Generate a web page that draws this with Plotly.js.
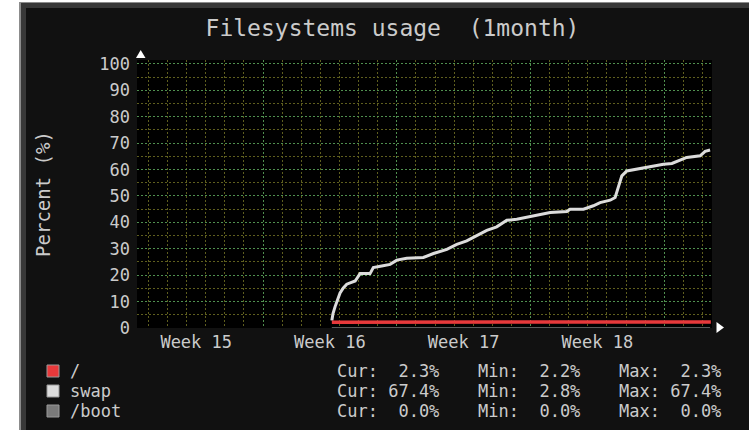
<!DOCTYPE html>
<html>
<head>
<meta charset="utf-8">
<script src="https://cdn.plot.ly/plotly-3.0.1.min.js"></script>
<style>
  html, body { margin:0; padding:0; background:#fff; width:749px; height:430px; overflow:hidden; }
  #frame { position:absolute; left:19px; top:2px; width:730px; height:428px; box-sizing:border-box;
           background:#383838; border-left:2px solid #8c8c8c; border-top:1px solid #8c8c8c; }
  #chart { position:absolute; left:26px; top:8px; width:723px; height:422px; }
</style>
</head>
<body>
<div id="frame"></div>
<div id="chart"></div>
<script>
// ---- data (x = days since start of Week 16) ----
const weekLabels = ['Week 15', 'Week 16', 'Week 17', 'Week 18'];
const weekMid = [-3.5, 3.5, 10.5, 17.5];
const weekStart = [0, 7, 14, 21];

const seriesNames = ['/', 'swap', '/boot'];
const seriesColors = ['#e8393b', '#dcdcdc', '#7a7a7a'];

const rootDay = [3.60, 8.0, 13.0, 18.0, 23.44];
const rootPct = [2.2, 2.2, 2.3, 2.3, 2.3];

const swapDay = [3.60, 3.66, 3.77, 3.90, 4.03, 4.20, 4.38, 4.82, 5.08, 5.60, 5.77, 6.21, 6.65, 7.00, 7.52, 8.39,
                 8.92, 9.62, 10.14, 10.66, 11.19, 11.71, 12.23, 12.76, 13.28, 14.15, 15.03, 15.90, 16.07, 16.77,
                 17.29, 17.64, 18.17, 18.43, 18.60, 18.78, 19.04, 19.57, 20.26, 20.96, 21.40, 21.83, 22.18,
                 22.88, 23.14, 23.40];
const swapPct = [2.8, 5.5, 8.1, 10.8, 13.3, 15.2, 16.6, 17.8, 20.6, 20.6, 22.9, 23.5, 24.1, 25.7, 26.4, 26.7,
                 28.2, 29.8, 31.7, 33.0, 34.9, 37.0, 38.3, 40.8, 41.2, 42.5, 43.7, 44.1, 45.0, 45.0,
                 46.3, 47.5, 48.4, 49.4, 53.2, 57.6, 59.5, 60.2, 61.1, 62.0, 62.3, 63.6, 64.6,
                 65.2, 66.9, 67.4];

const bootDay = [3.60, 23.40];
const bootPct = [0.0, 0.0];

const curVals = [2.3, 67.4, 0.0];
const minVals = [2.2, 2.8, 0.0];
const maxVals = [2.3, 67.4, 0.0];

// ---- layout helpers (page pixels -> paper coords) ----
const PL = 137, PR = 712, PT = 60, PB = 328;
const px = x => (x - PL) / (PR - PL);
const py = y => (PB - y) / (PB - PT);
const MONO = 'DejaVu Sans Mono, monospace';
const TXT = '#cbcbcb';
const GREEN = '#4f8f4f';
const OLIVE = '#5e5e1e';
const nb = s => s.replace(/ /g, '\u00a0');
const fmt = (label, v) => nb(label + (v.toFixed(1) + '%').padStart(6, ' '));

const traces = [
  { x: bootDay, y: bootPct, xaxis: 'x2', type: 'scatter', mode: 'lines', name: seriesNames[2],
    line: { color: seriesColors[2], width: 1.5 }, showlegend: false, hoverinfo: 'skip' },
  { x: swapDay, y: swapPct, type: 'scatter', mode: 'lines', name: seriesNames[1],
    line: { color: seriesColors[1], width: 3 }, showlegend: false, hoverinfo: 'skip' },
  { x: rootDay, y: rootPct, type: 'scatter', mode: 'lines', name: seriesNames[0],
    line: { color: seriesColors[0], width: 3.5 }, showlegend: false, hoverinfo: 'skip' }
];

const rowsY = [371, 391, 411];
const annotations = [];
const shapes = [];
rowsY.forEach((yy, i) => {
  shapes.push({ type: 'rect', xref: 'paper', yref: 'paper', x0: px(47), x1: px(59), y0: py(yy + 6), y1: py(yy - 6),
                fillcolor: seriesColors[i], line: { color: '#9a9a9a', width: 1 } });
  annotations.push({ xref: 'paper', yref: 'paper', x: px(69), y: py(yy), xanchor: 'left', yanchor: 'middle',
                     text: seriesNames[i], showarrow: false, borderpad: 0, font: { family: MONO, size: 17, color: TXT } });
  annotations.push({ xref: 'paper', yref: 'paper', x: px(336), y: py(yy), xanchor: 'left', yanchor: 'middle',
                     text: fmt('Cur:', curVals[i]), showarrow: false, borderpad: 0, font: { family: MONO, size: 17, color: TXT } });
  annotations.push({ xref: 'paper', yref: 'paper', x: px(477), y: py(yy), xanchor: 'left', yanchor: 'middle',
                     text: fmt('Min:', minVals[i]), showarrow: false, borderpad: 0, font: { family: MONO, size: 17, color: TXT } });
  annotations.push({ xref: 'paper', yref: 'paper', x: px(618), y: py(yy), xanchor: 'left', yanchor: 'middle',
                     text: fmt('Max:', maxVals[i]), showarrow: false, borderpad: 0, font: { family: MONO, size: 17, color: TXT } });
});

// axis arrows
shapes.push({ type: 'path', xref: 'paper', yref: 'paper', xsizemode: 'pixel', ysizemode: 'pixel', xanchor: 0, yanchor: 1,
              path: 'M -1,2 L 8.5,2 L 3.7,10 Z', fillcolor: '#ffffff', line: { width: 0 } });
shapes.push({ type: 'path', xref: 'paper', yref: 'paper', xsizemode: 'pixel', ysizemode: 'pixel', xanchor: 1, yanchor: 0,
              path: 'M 4.5,6 L 4.5,-5 L 12,0.5 Z', fillcolor: '#ffffff', line: { width: 0 } });

const layout = {
  width: 723, height: 422,
  margin: { l: PL - 26, r: 26 + 723 - PR, t: PT - 8, b: 8 + 422 - PB, pad: 0 },
  paper_bgcolor: '#111111', plot_bgcolor: '#000000',
  title: { text: nb('Filesystems usage  (1month)'), x: (392.5 - 26) / 723, xanchor: 'center',
           y: 1 - (28 - 8) / 422, yanchor: 'middle', font: { family: MONO, size: 23, color: TXT } },
  showlegend: false,
  xaxis: { range: [-6.6, 23.5], tickmode: 'array', tickvals: weekStart, showticklabels: false, ticks: '',
           showgrid: true, gridcolor: GREEN, griddash: '2px,2px', gridwidth: 1, zeroline: false, showline: false,
           minor: { tickmode: 'linear', tick0: 0, dtick: 1, showgrid: true, gridcolor: OLIVE, griddash: '2px,2px', gridwidth: 1, ticks: '' } },
  xaxis2: { overlaying: 'x', side: 'bottom', range: [-6.6, 23.5], tickmode: 'array', tickvals: weekMid, ticktext: weekLabels,
            showgrid: false, zeroline: false, showline: false, ticks: '', ticklabelstandoff: 2,
            tickfont: { family: MONO, size: 17, color: TXT } },
  yaxis: { range: [0, 101.5], tickmode: 'linear', tick0: 0, dtick: 10, ticks: '', ticklabelstandoff: 6,
           showgrid: true, gridcolor: GREEN, griddash: '2px,2px', gridwidth: 1, zeroline: false, showline: false,
           minor: { tickmode: 'linear', tick0: 0, dtick: 5, showgrid: true, gridcolor: OLIVE, griddash: '2px,2px', gridwidth: 1, ticks: '' },
           tickfont: { family: MONO, size: 17, color: TXT },
           title: { text: 'Percent (%)', standoff: 43, font: { family: MONO, size: 19, color: TXT } } },
  annotations: annotations,
  shapes: shapes
};

Plotly.newPlot('chart', traces, layout, { staticPlot: true, displayModeBar: false });
</script>
</body>
</html>
